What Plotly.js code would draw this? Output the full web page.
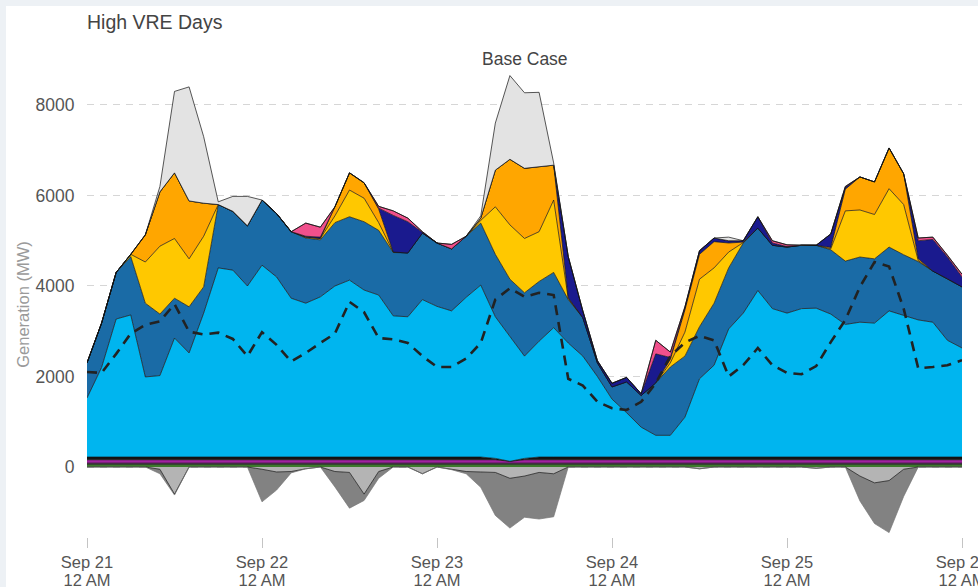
<!DOCTYPE html>
<html>
<head>
<meta charset="utf-8">
<script src="https://cdn.plot.ly/plotly-3.0.1.min.js"></script>
<style>
  html, body { margin:0; padding:0; background:#edf1f5; width:978px; height:587px; overflow:hidden; }
  #chart { position:absolute; left:6px; top:6px; width:972px; height:581px; background:#fff; }
</style>
</head>
<body>
<div id="chart"></div>
<script>
// hours since Sep 21 12 AM (2-hour steps)
const hours = [0,2,4,6,8,10,12,14,16,18,20,22,
  24,26,28,30,32,34,36,38,40,42,44,46,
  48,50,52,54,56,58,60,62,64,66,68,70,
  72,74,76,78,80,82,84,86,88,90,92,94,
  96,98,100,102,104,106,108,110,112,114,116,118,
  120];
const tickHours = [0,24,48,72,96,120];
const tickDays = ['Sep 21','Sep 22','Sep 23','Sep 24','Sep 25','Sep 26'];
const tickTimes = ['12 AM','12 AM','12 AM','12 AM','12 AM','12 AM'];

// base layers (MW)
const green = [60,60,60,60,60,60,60,60,60,60,60,60,
  60,60,60,60,60,60,60,60,60,60,60,60,
  60,60,60,60,60,60,60,60,60,60,60,60,
  60,60,60,60,60,60,60,60,60,60,60,60,
  60,60,60,60,60,60,60,60,60,60,60,60,
  60];
const darkBand = [25,25,25,25,25,25,25,25,25,25,25,25,
  25,25,25,25,25,25,25,25,25,25,25,25,
  25,25,25,25,25,25,25,25,25,25,25,25,
  25,25,25,25,25,25,25,25,25,25,25,25,
  25,25,25,25,25,25,25,25,25,25,25,25,
  25];
const magenta = [75,75,75,75,75,75,75,75,75,75,75,75,
  75,75,75,75,75,75,75,75,75,75,75,75,
  75,75,75,75,75,40,75,75,75,75,75,75,
  75,75,75,75,75,75,75,75,75,75,75,75,
  75,75,75,75,75,75,75,75,75,75,75,75,
  75];
const blackBand = [60,60,60,60,60,60,60,60,60,60,60,60,
  60,60,60,60,60,60,60,60,60,60,60,60,
  60,60,60,60,30,0,30,60,60,60,60,60,
  60,60,60,60,60,60,60,60,60,60,60,60,
  60,60,60,60,60,60,60,60,60,60,60,60,
  60];
const cyan = [1305,1980,3050,3140,1770,1800,2630,2300,3180,4180,4130,3780,
  4240,3980,3510,3400,3540,3780,3910,3690,3580,3120,3100,3480,
  3330,3230,3530,3800,3130,2755,2260,2560,2860,2520,2230,1780,
  1280,980,660,480,480,880,1730,2030,2830,3180,3680,3280,
  3180,3280,3290,3160,2930,2980,2960,3230,3130,3030,2980,2580,
  2410];
const steel = [775,980,1030,1290,1630,1360,880,1020,580,1400,1300,1330,
  1440,1400,1470,1440,1260,1400,1400,1510,1430,1400,1410,1470,
  1400,1370,1350,1370,1380,1270,1400,1320,1220,960,850,300,
  270,680,700,1160,1510,1350,1150,1370,1350,1550,1380,1400,
  1460,1400,1390,1420,1400,1440,1420,1410,1340,1290,1130,1360,
  1350];
const yellow = [0,0,0,50,910,1500,1320,1060,1120,0,0,0,
  0,0,0,20,30,150,590,520,170,10,0,0,
  0,0,0,60,1050,1200,1200,1100,1600,20,0,0,
  0,0,0,0,90,530,1050,780,350,10,0,0,
  0,0,0,20,1110,1040,980,1290,1110,20,0,0,
  0];
const orange = [0,0,0,0,600,1200,1450,1280,730,0,0,0,
  0,0,0,0,0,200,380,340,300,0,0,0,
  0,0,0,50,810,1450,1550,1440,770,20,0,0,
  0,0,0,0,80,490,550,580,200,10,0,0,
  0,0,0,30,480,730,720,900,680,40,0,0,
  0];
const navy = [0,0,0,0,0,0,0,0,0,0,0,0,
  0,0,0,20,30,0,0,0,20,810,690,10,
  0,0,0,0,0,0,0,0,0,910,150,50,
  80,100,40,640,40,50,80,80,50,30,250,50,
  10,0,0,300,40,0,0,0,0,400,700,480,
  220];
const pink = [0,0,0,0,0,0,0,0,0,0,0,0,
  0,0,0,290,220,0,0,0,40,100,80,20,
  0,100,0,0,0,0,0,0,0,0,0,0,
  0,0,0,300,120,20,0,0,0,0,0,50,
  40,0,0,0,20,0,0,0,0,60,50,40,
  60];
const lightGray = [0,0,0,0,0,120,1800,2520,1470,60,330,650,
  0,0,0,0,0,0,0,0,0,0,0,0,
  0,0,0,50,1040,1850,1670,1640,50,0,0,0,
  0,0,0,0,0,0,0,0,80,0,0,0,
  0,0,0,0,0,0,0,0,0,0,0,0,
  0];
// negative layers (MW)
const negLight = [0,0,0,0,0,-50,-600,0,0,0,0,0,
  -50,-110,-100,-40,0,-100,-120,-600,-100,0,0,-150,
  0,-50,-100,-110,-120,-250,-200,-120,-150,0,0,0,
  0,0,0,0,0,0,-40,0,0,0,0,0,
  0,0,-30,0,0,-200,-350,-300,-50,0,0,0,
  0];
const negDark = [0,0,0,0,0,-100,-20,0,0,0,0,0,
  -720,-400,-30,0,0,-340,-790,-140,-150,0,0,0,
  0,-10,-50,-340,-950,-1100,-910,-1030,-950,0,0,0,
  0,0,0,0,0,0,0,0,0,0,0,0,
  0,0,0,0,0,-550,-900,-1150,-600,0,0,0,
  0];
// dashed line (MW)
const load = [2100,2080,2500,2950,3140,3220,3600,2990,2930,2970,2830,2450,
  2980,2700,2330,2520,2740,2950,3650,3420,2850,2820,2740,2450,
  2210,2210,2400,2740,3700,3950,3760,3850,3800,1950,1800,1440,
  1300,1260,1440,1850,2450,2750,2900,2800,2000,2250,2630,2250,
  2080,2050,2230,2760,3250,3980,4530,4430,3500,2180,2210,2250,
  2360];

function area(name, y, color, group, lineColor) {
  return {
    x: hours, y: y, name: name, type: 'scatter', mode: 'lines',
    stackgroup: group, fillcolor: color,
    line: {color: lineColor || '#111', width: 0.7, shape: 'linear'},
    hoverinfo: 'skip'
  };
}

const traces = [
  area('Green', green, '#3d7a2c', 'pos'),
  area('Dark', darkBand, '#333333', 'pos'),
  area('Magenta', magenta, '#a023a0', 'pos'),
  area('Black', blackBand, '#141414', 'pos'),
  area('Cyan', cyan, '#00b5ef', 'pos'),
  area('Steel', steel, '#1a6ba6', 'pos'),
  area('Yellow', yellow, '#ffc800', 'pos'),
  area('Orange', orange, '#ffa600', 'pos'),
  area('Navy', navy, '#1a1a8e', 'pos'),
  area('Pink', pink, '#f0508c', 'pos'),
  area('LightGray', lightGray, '#e3e3e3', 'pos'),
  area('NegLight', negLight, '#b4b4b4', 'neg'),
  area('NegDark', negDark, '#828282', 'neg', '#777'),
  {x: hours, y: load, type: 'scatter', mode: 'lines', name: 'Load',
   line: {color: '#222', width: 2.6, dash: '10px,7px'}, hoverinfo: 'skip'},
  {x: [], y: [], type: 'scatter', xaxis: 'x2', yaxis: 'y', hoverinfo: 'skip', showlegend: false}
];

const FONT = 'Liberation Sans, Arial, Helvetica, sans-serif';
const layout = {
  width: 972, height: 581,
  margin: {l: 81, r: 16, t: 66, b: 50},
  paper_bgcolor: '#ffffff', plot_bgcolor: '#ffffff',
  showlegend: false,
  font: {family: FONT, size: 17, color: '#555'},
  title: {text: 'High VRE Days', x: 0, xref: 'paper', xanchor: 'left',
          y: 1 - 16.5/581, yref: 'container', yanchor: 'middle',
          font: {family: FONT, size: 19.5, color: '#444'}},
  xaxis: {range: [0, 120], tickvals: tickHours, ticktext: tickDays,
          showgrid: false, zeroline: false, showline: false,
          ticks: 'outside', ticklen: 10, tickcolor: '#c4c4c4', tickwidth: 1,
          ticklabeloverflow: 'allow',
          tickfont: {family: FONT, size: 16.5, color: '#555'}},
  xaxis2: {range: [0, 120], overlaying: 'x', anchor: 'y', side: 'bottom',
           tickvals: tickHours, ticktext: tickTimes,
           showgrid: false, zeroline: false, showline: false, ticks: '',
           ticklabelstandoff: 31, ticklabeloverflow: 'allow',
           tickfont: {family: FONT, size: 16.5, color: '#555'}},
  yaxis: {range: [-1547, 8729], tickvals: [0, 2000, 4000, 6000, 8000],
          showgrid: true, gridcolor: '#d6d6d6', gridwidth: 1, griddash: '7px,6px',
          zeroline: false, showline: false,
          ticks: 'outside', ticklen: 8, tickcolor: 'rgba(0,0,0,0)',
          tickfont: {family: FONT, size: 17.5, color: '#555'},
          title: {text: 'Generation (MW)', font: {family: FONT, size: 16.5, color: '#9a9a9a'}, standoff: 1}},
  annotations: [{text: 'Base Case', xref: 'paper', yref: 'paper', x: 0.5, y: 1,
                 xanchor: 'center', yanchor: 'bottom', yshift: 1, showarrow: false,
                 font: {family: FONT, size: 17.5, color: '#444'}}]
};

Plotly.newPlot('chart', traces, layout, {staticPlot: true, displayModeBar: false});
</script>
</body>
</html>
